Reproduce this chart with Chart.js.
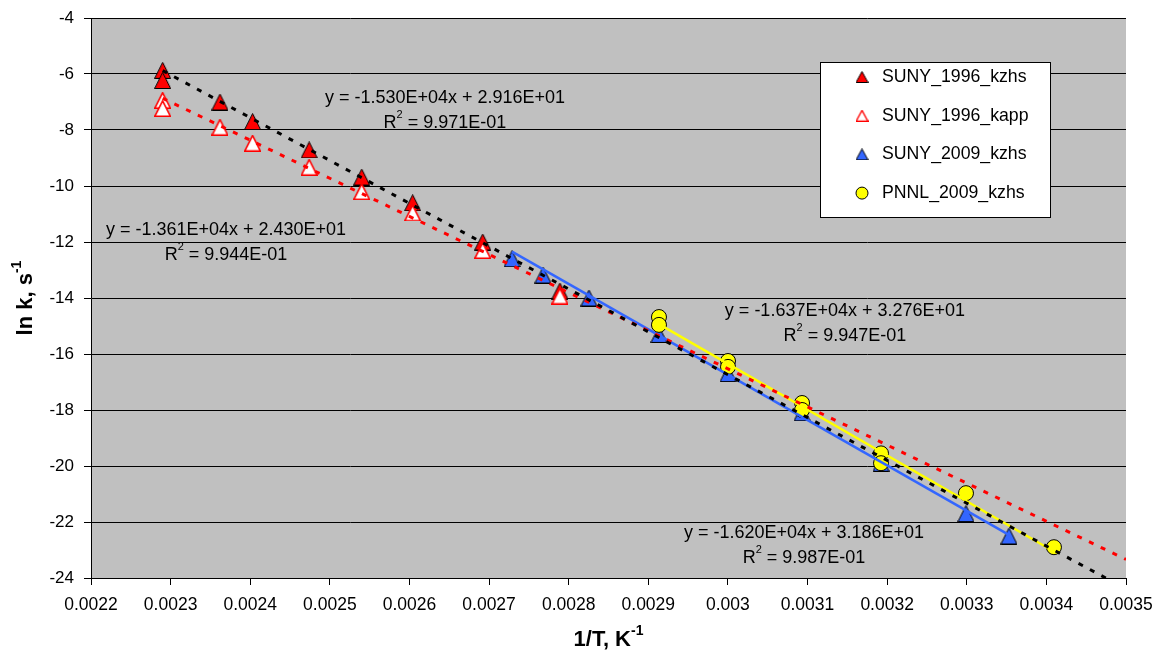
<!DOCTYPE html>
<html>
<head>
<meta charset="utf-8">
<script src="https://cdn.jsdelivr.net/npm/chart.js@4.4.1/dist/chart.umd.min.js"></script>
<style>
  body { margin: 0; background: #fff; }
  #wrap { width: 1154px; height: 660px; }
</style>
</head>
<body>
<div id="wrap"><canvas id="chart" width="1154" height="660"></canvas></div>
<script>
// axis ticks
const xTicks = [0.0022, 0.0023, 0.0024, 0.0025, 0.0026, 0.0027, 0.0028, 0.0029, 0.003, 0.0031, 0.0032, 0.0033, 0.0034, 0.0035];
const yTicks = [-24, -22, -20, -18, -16, -14, -12, -10, -8, -6, -4];

// series (1/T in K^-1, ln k)
const suny96X = [0.002290, 0.002290, 0.002362, 0.002403, 0.002474, 0.002540, 0.002604, 0.002692, 0.002789];
const suny96Kzhs = [-5.87, -6.23, -7.0, -7.7, -8.71, -9.68, -10.6, -12.0, -13.75];
const suny96Kapp = [-6.94, -7.23, -7.9, -8.47, -9.33, -10.2, -10.96, -12.3, -13.93];
const suny09X = [0.0027288, 0.0027677, 0.0028255, 0.0029134, 0.0030001, 0.0030931, 0.0031923, 0.0032990, 0.0033530];
const suny09Kzhs = [-12.6, -13.18, -14.0, -15.3, -16.7, -18.1, -19.9, -21.7, -22.5];
const pnnlX = [0.0029134, 0.0029134, 0.0030001, 0.0030001, 0.0030931, 0.0030931, 0.0031923, 0.0031923, 0.0032990, 0.0034095];
const pnnlKzhs = [-14.68, -14.96, -16.25, -16.46, -17.75, -18.0, -19.55, -19.9, -20.97, -22.9];

const seriesNames = ['SUNY_1996_kzhs', 'SUNY_1996_kapp', 'SUNY_2009_kzhs', 'PNNL_2009_kzhs'];

// linear fits, same order as series
const fitSlopes = [-1.530e4, -1.361e4, -1.620e4, -1.637e4];
const fitIntercepts = [2.916e1, 2.430e1, 3.186e1, 3.276e1];
const fitR2 = [0.9971, 0.9944, 0.9987, 0.9947];
const fitFrom = [0.002290, 0.002290, 0.0027288, 0.0029134];
const fitTo = [0.0035, 0.0035, 0.0033530, 0.0034095];

// where each equation box sits (data coords of its first line)
const eqSpots = [[0.0026446, -6.857], [0.0023696, -11.571], [0.0030956, -22.393], [0.0031470, -14.464]];

const FONT = "'Liberation Sans', Arial, sans-serif";
const RED = '#ff0000', BLUE = '#3366ff', YELLOW = '#ffff00';

function makeTriangle(w, h, fill, stroke, lw) {
  const c = document.createElement('canvas');
  c.width = w; c.height = h;
  const g = c.getContext('2d');
  const p = lw / 2;
  g.beginPath();
  g.moveTo(w / 2, p);
  g.lineTo(w - p, h - p);
  g.lineTo(p, h - p);
  g.closePath();
  g.fillStyle = fill; g.fill();
  g.lineWidth = lw; g.strokeStyle = stroke; g.stroke();
  return c;
}

const triRed = makeTriangle(17, 17, RED, '#000', 1);
const triOpen = makeTriangle(17, 17, '#fff', RED, 1.6);
const triBlue = makeTriangle(17, 17, BLUE, '#000', 1);

function pts(xs, ys) {
  return xs.map((x, i) => ({ x: x, y: ys[i] }));
}

function fitLine(i) {
  return [fitFrom[i], fitTo[i]].map(x => ({ x: x, y: fitSlopes[i] * x + fitIntercepts[i] }));
}

function sci(v) {
  const [m, e] = v.toExponential(3).split('e');
  const n = parseInt(e, 10);
  return m + 'E' + (n < 0 ? '-' : '+') + String(Math.abs(n)).padStart(2, '0');
}

// draw a row of text pieces, some raised as superscripts
function drawRich(ctx, parts, x, y, size, bold) {
  const w = bold ? 'bold ' : '';
  const big = w + size + 'px ' + FONT;
  const small = w + Math.round(size * 0.62) + 'px ' + FONT;
  let total = 0;
  parts.forEach(p => { ctx.font = p.sup ? small : big; total += ctx.measureText(p.t).width; });
  let cx = x - total / 2;
  ctx.textAlign = 'left';
  ctx.textBaseline = 'middle';
  parts.forEach(p => {
    ctx.font = p.sup ? small : big;
    ctx.fillText(p.t, cx, p.sup ? y - size * 0.42 : y);
    cx += ctx.measureText(p.t).width;
  });
}

const legendMarks = [
  makeTriangle(13, 12, RED, '#000', 1),
  makeTriangle(13, 12, '#fff', RED, 1.3),
  makeTriangle(13, 12, BLUE, '#000', 1),
  null
];

const decor = {
  id: 'decor',
  beforeDraw(chart) {
    const { ctx, chartArea: a } = chart;
    ctx.save();
    ctx.fillStyle = '#fff';
    ctx.fillRect(0, 0, chart.width, chart.height);
    ctx.fillStyle = '#c0c0c0';
    ctx.fillRect(a.left, a.top, a.right - a.left, a.bottom - a.top);
    ctx.restore();
  },
  afterDraw(chart) {
    const { ctx, chartArea: a } = chart;
    const xs = chart.scales.x, ys = chart.scales.y;
    ctx.save();
    ctx.fillStyle = '#000';

    // trendline equations
    eqSpots.forEach((s, i) => {
      const px = xs.getPixelForValue(s[0]);
      const py = ys.getPixelForValue(s[1]);
      drawRich(ctx, [{ t: 'y = ' + sci(fitSlopes[i]) + 'x + ' + sci(fitIntercepts[i]) }], px, py, 18, false);
      drawRich(ctx, [{ t: 'R' }, { t: '2', sup: true }, { t: ' = ' + sci(fitR2[i]) }], px, py + 25, 18, false);
    });

    // axis titles
    drawRich(ctx, [{ t: '1/T, K' }, { t: '-1', sup: true }], (a.left + a.right) / 2, 640, 22, true);
    ctx.save();
    ctx.translate(26, (a.top + a.bottom) / 2);
    ctx.rotate(-Math.PI / 2);
    drawRich(ctx, [{ t: 'ln k, s' }, { t: '-1', sup: true }], 0, 0, 22, true);
    ctx.restore();

    // legend box
    const L = 820, T = 62, W = 230, H = 155;
    ctx.fillStyle = '#fff';
    ctx.fillRect(L, T, W, H);
    ctx.strokeStyle = '#000';
    ctx.lineWidth = 1;
    ctx.strokeRect(L + 0.5, T + 0.5, W, H);
    ctx.fillStyle = '#000';
    ctx.font = '17.7px ' + FONT;
    ctx.textAlign = 'left';
    ctx.textBaseline = 'middle';
    seriesNames.forEach((name, i) => {
      const ry = T + 15 + i * 38.7;
      const m = legendMarks[i];
      if (m) {
        ctx.drawImage(m, 862 - m.width / 2, ry - m.height / 2);
      } else {
        ctx.beginPath();
        ctx.arc(862, ry, 6, 0, Math.PI * 2);
        ctx.fillStyle = YELLOW; ctx.fill();
        ctx.strokeStyle = '#000'; ctx.stroke();
        ctx.fillStyle = '#000';
      }
      ctx.fillText(name, 882, ry);
    });
    ctx.restore();
  }
};

const fitStyle = [
  { borderColor: '#000', borderWidth: 3, borderDash: [5, 8] },
  { borderColor: RED, borderWidth: 3, borderDash: [5, 8] },
  { borderColor: BLUE, borderWidth: 2.5, borderDash: [] },
  { borderColor: YELLOW, borderWidth: 2.5, borderDash: [] }
];

const fitSets = fitSlopes.map((m, i) => Object.assign({
  label: 'fit ' + seriesNames[i],
  data: fitLine(i),
  showLine: true,
  pointRadius: 0,
  fill: false,
  order: 0
}, fitStyle[i]));

new Chart(document.getElementById('chart'), {
  type: 'scatter',
  data: {
    datasets: [
      { label: seriesNames[0], data: pts(suny96X, suny96Kzhs), pointStyle: triRed, order: 4 },
      { label: seriesNames[1], data: pts(suny96X, suny96Kapp), pointStyle: triOpen, order: 3 },
      { label: seriesNames[2], data: pts(suny09X, suny09Kzhs), pointStyle: triBlue, order: 2 },
      { label: seriesNames[3], data: pts(pnnlX, pnnlKzhs), pointStyle: 'circle', pointRadius: 7.5,
        backgroundColor: YELLOW, borderColor: '#000', borderWidth: 1, order: 1 }
    ].concat(fitSets)
  },
  options: {
    responsive: false,
    animation: false,
    events: [],
    layout: { padding: { top: 18, right: 28, left: 0, bottom: 0 } },
    plugins: { legend: { display: false }, tooltip: { enabled: false } },
    scales: {
      x: {
        type: 'linear',
        min: 0.0022,
        max: 0.0035,
        afterBuildTicks: s => { s.ticks = xTicks.map(v => ({ value: v })); },
        afterFit: s => { s.height = 82; s.paddingLeft = 0; s.paddingRight = 0; },
        ticks: {
          color: '#000',
          padding: 10,
          maxRotation: 0,
          autoSkip: false,
          font: { family: FONT, size: 17.5 },
          callback: v => String(+v.toFixed(4))
        },
        grid: { drawOnChartArea: false, drawTicks: true, tickLength: 7, color: '#000' },
        border: { display: true, color: '#000', width: 1 }
      },
      y: {
        type: 'linear',
        min: -24,
        max: -4,
        afterBuildTicks: s => { s.ticks = yTicks.map(v => ({ value: v })); },
        afterFit: s => { s.width = 91; s.paddingTop = 0; s.paddingBottom = 0; },
        ticks: {
          color: '#000',
          padding: 10,
          autoSkip: false,
          font: { family: FONT, size: 17 },
          callback: v => String(v)
        },
        grid: { drawOnChartArea: true, drawTicks: true, tickLength: 7, color: '#000', lineWidth: 1 },
        border: { display: true, color: '#000', width: 1 }
      }
    }
  },
  plugins: [decor]
});
</script>
</body>
</html>
